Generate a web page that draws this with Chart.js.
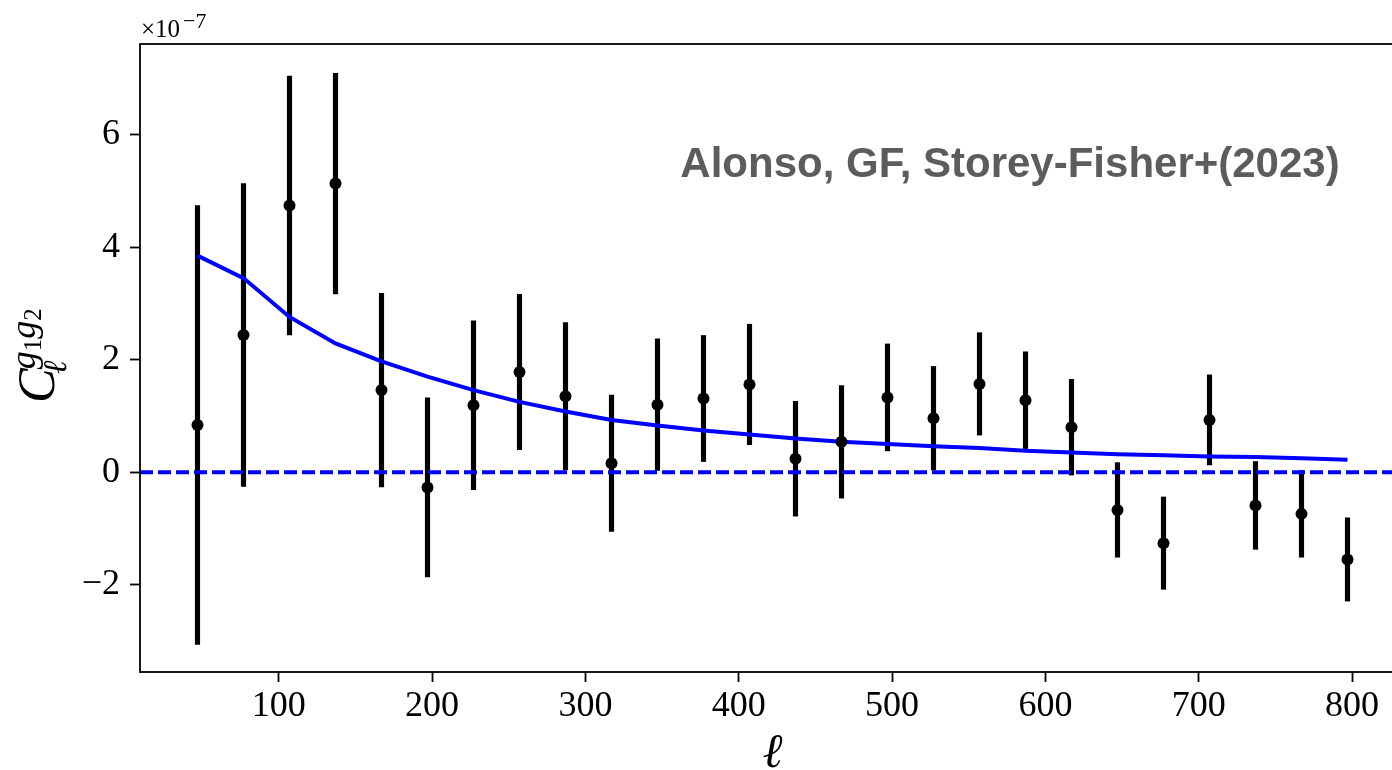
<!DOCTYPE html>
<html>
<head>
<meta charset="utf-8">
<script src="https://cdn.jsdelivr.net/npm/chart.js@4"></script>
<style>
  html, body { margin: 0; padding: 0; background: #ffffff; }
  #wrap { width: 1392px; height: 770px; overflow: hidden; position: relative; background: #ffffff; }
  canvas { display: block; }
</style>
</head>
<body>
<div id="wrap"><canvas id="c" width="1420" height="770"></canvas></div>
<script>
// ---- data (C_ell values in units of 1e-7) ----
const ell = [47, 77, 107, 137, 167, 197, 227, 257, 287, 317, 347, 377, 407,
             437, 467, 497, 527, 557, 587, 617, 647, 677, 707, 737, 767, 797];
const clG1G2 = [0.84, 2.44, 4.74, 5.13, 1.46, -0.27, 1.19, 1.78, 1.35, 0.16, 1.20, 1.31, 1.56,
                0.24, 0.54, 1.33, 0.96, 1.57, 1.28, 0.80, -0.67, -1.26, 0.93, -0.59, -0.74, -1.55];
const clErr = [3.90, 2.69, 2.30, 1.96, 1.72, 1.59, 1.50, 1.38, 1.31, 1.21, 1.17, 1.12, 1.07,
               1.02, 1.00, 0.95, 0.92, 0.91, 0.86, 0.85, 0.84, 0.82, 0.80, 0.78, 0.77, 0.74];
const clModel = [3.85, 3.45, 2.76, 2.29, 1.97, 1.70, 1.46, 1.25, 1.08, 0.93, 0.83, 0.74, 0.67,
                 0.60, 0.54, 0.50, 0.46, 0.43, 0.38, 0.35, 0.32, 0.30, 0.28, 0.27, 0.25, 0.22];
const xTicks = [100, 200, 300, 400, 500, 600, 700, 800];
const yTicks = [-2, 0, 2, 4, 6];
const annotationText = 'Alonso, GF, Storey-Fisher+(2023)';

// ---- axis limits ----
const X_MIN = 9.5, X_MAX = 834.5;
const Y_MIN = -3.55, Y_MAX = 7.61;

const pts = ell.map((x, i) => ({ x: x, y: clG1G2[i] }));
const bars = ell.map((x, i) => ({ x: x, y: [clG1G2[i] - clErr[i], clG1G2[i] + clErr[i]] }));
const modelPts = ell.map((x, i) => ({ x: x, y: clModel[i] }));
const zeroPts = [{ x: X_MIN, y: 0 }, { x: X_MAX, y: 0 }];

const SERIF = '"Liberation Serif", "DejaVu Serif", serif';

const decor = {
  id: 'decor',
  afterDraw(chart) {
    const ctx = chart.ctx;
    const a = chart.chartArea;
    ctx.save();
    // spines
    ctx.strokeStyle = '#000';
    ctx.lineWidth = 1.8;
    ctx.strokeRect(a.left, a.top, a.right - a.left, a.bottom - a.top);

    // offset text  x10^-7
    ctx.fillStyle = '#000';
    ctx.textBaseline = 'alphabetic';
    ctx.textAlign = 'left';
    ctx.font = '25px ' + SERIF;
    ctx.fillText('\u00d710', a.left + 1, 37);
    const w1 = ctx.measureText('\u00d710').width;
    ctx.font = '22px ' + SERIF;
    ctx.fillText('\u22127', a.left + 1 + w1 + 3, 28);

    // x label
    ctx.font = 'italic 48px ' + SERIF;
    ctx.textAlign = 'center';
    ctx.fillText('\u2113', (a.left + a.right) / 2, 767);

    // y label  C_ell^{g1 g2}
    ctx.save();
    ctx.translate(54, 403);
    ctx.rotate(-Math.PI / 2);
    ctx.textAlign = 'left';
    ctx.font = 'italic 52px ' + SERIF;
    ctx.fillText('C', 0, 0);
    const cw = ctx.measureText('C').width;
    // subscript ell
    ctx.font = 'italic 33px ' + SERIF;
    ctx.fillText('\u2113', cw - 6, 12);
    // superscript g1 g2
    let sx = cw - 1;
    const sy = -19;
    ctx.font = 'italic 36px ' + SERIF;
    ctx.fillText('g', sx, sy);
    sx += ctx.measureText('g').width;
    ctx.font = '25px ' + SERIF;
    ctx.fillText('1', sx, sy + 6);
    sx += ctx.measureText('1').width;
    ctx.font = 'italic 36px ' + SERIF;
    ctx.fillText('g', sx, sy);
    sx += ctx.measureText('g').width;
    ctx.font = '25px ' + SERIF;
    ctx.fillText('2', sx, sy + 6);
    ctx.restore();

    // annotation
    ctx.font = 'bold 42px "Liberation Sans", Arial, Helvetica, sans-serif';
    ctx.fillStyle = '#5c5c5c';
    ctx.textAlign = 'center';
    ctx.textBaseline = 'alphabetic';
    ctx.fillText(annotationText, 1010, 177);
    ctx.restore();
  }
};

new Chart(document.getElementById('c'), {
  type: 'scatter',
  data: {
    datasets: [
      {
        type: 'bar',
        data: bars,
        backgroundColor: '#000',
        borderWidth: 0,
        barThickness: 4.5,
        grouped: false,
        order: 3
      },
      {
        type: 'line',
        data: modelPts,
        borderColor: '#0000ff',
        borderWidth: 4,
        pointRadius: 0,
        fill: false,
        tension: 0,
        order: 2
      },
      {
        type: 'line',
        data: zeroPts,
        borderColor: '#0000ff',
        borderWidth: 4,
        borderDash: [13, 5],
        pointRadius: 0,
        fill: false,
        order: 2
      },
      {
        type: 'scatter',
        data: pts,
        backgroundColor: '#000',
        borderColor: '#000',
        borderWidth: 0,
        pointRadius: 6,
        order: 1
      }
    ]
  },
  options: {
    responsive: false,
    animation: false,
    devicePixelRatio: 1,
    layout: { padding: { left: 0, top: 44, right: 15, bottom: 0 } },
    plugins: { legend: { display: false }, tooltip: { enabled: false } },
    scales: {
      x: {
        type: 'linear',
        min: X_MIN,
        max: X_MAX,
        offset: false,
        afterFit: s => { s.height = 98; },
        afterBuildTicks: s => { s.ticks = xTicks.map(v => ({ value: v })); },
        grid: { offset: false, drawOnChartArea: false, drawTicks: true, tickLength: 10, tickWidth: 1.8, tickColor: '#000' },
        border: { display: false },
        ticks: {
          color: '#000',
          padding: 3,
          maxRotation: 0,
          autoSkip: false,
          font: { family: SERIF, size: 36 },
          callback: v => String(v)
        }
      },
      y: {
        type: 'linear',
        min: Y_MIN,
        max: Y_MAX,
        afterFit: s => { s.width = 140; },
        afterBuildTicks: s => { s.ticks = yTicks.map(v => ({ value: v })); },
        grid: { offset: false, drawOnChartArea: false, drawTicks: true, tickLength: 10, tickWidth: 1.8, tickColor: '#000' },
        border: { display: false },
        ticks: {
          color: '#000',
          padding: 10,
          autoSkip: false,
          font: { family: SERIF, size: 36 },
          callback: v => (v < 0 ? '\u2212' + Math.abs(v) : String(v))
        }
      }
    }
  },
  plugins: [decor]
});
</script>
</body>
</html>
